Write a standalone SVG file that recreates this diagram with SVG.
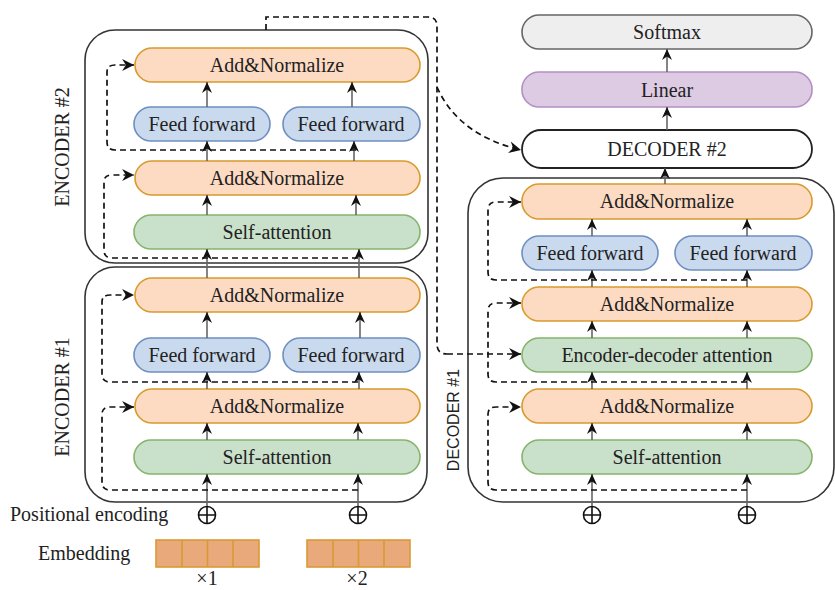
<svg xmlns="http://www.w3.org/2000/svg" width="835" height="590" viewBox="0 0 835 590">
<defs>
<marker id="ah" markerUnits="userSpaceOnUse" markerWidth="13" markerHeight="13" viewBox="0 0 12 12" refX="11" refY="6" orient="auto">
<path d="M0,0.5 L11,6 L0,11.5 L3.5,6 Z" fill="#111"/>
</marker>
<marker id="ahs" markerUnits="userSpaceOnUse" markerWidth="12" markerHeight="12" viewBox="0 0 12 12" refX="11" refY="6" orient="auto">
<path d="M0,1 L11,6 L0,11 L3.5,6 Z" fill="#111"/>
</marker>
</defs>
<style>
text{font-family:"Liberation Serif","Times New Roman",serif;font-size:20px;fill:#222;text-anchor:middle}
.an{fill:#fddbc2;stroke:#d89b2e;stroke-width:1.6}
.ff{fill:#c9daef;stroke:#6f8fc0;stroke-width:1.6}
.sa{fill:#c9e0ca;stroke:#86b46c;stroke-width:1.6}
.li{fill:#dccbe2;stroke:#b38fc4;stroke-width:1.6}
.sm{fill:#eeeeee;stroke:#666;stroke-width:1.6}
.dc{fill:#fff;stroke:#222;stroke-width:1.8}
.box{fill:none;stroke:#333;stroke-width:1.6}
.up{stroke:#666;stroke-width:1.6;fill:none;marker-end:url(#ahs)}
.ds{stroke:#111;stroke-width:1.7;fill:none;stroke-dasharray:6 4}
.dsa{stroke:#111;stroke-width:1.7;fill:none;stroke-dasharray:6 4;marker-end:url(#ah)}
.emb{fill:#eaa97a;stroke:#d99a34;stroke-width:1.6}
.plus{fill:none;stroke:#111;stroke-width:1.6}
</style>

<!-- containers -->
<g id="encoder2">
<rect class="box" x="85" y="30" width="343" height="233" rx="30"/>
<text transform="translate(69,147) rotate(-90)">ENCODER #2</text>
</g>
<g id="encoder1">
<rect class="box" x="85" y="267" width="342" height="235" rx="30"/>
<text transform="translate(69,397) rotate(-90)">ENCODER #1</text>
</g>
<g id="decoder1">
<rect class="box" x="468" y="178" width="366" height="324" rx="35"/>
<text transform="translate(459,420) rotate(-90)" style="font-family:'Liberation Sans',Arial,sans-serif;font-size:16px">DECODER #1</text>
</g>

<!-- encoder 2 nodes -->
<g id="e2-an2"><rect class="an" x="135" y="48" width="285" height="34" rx="17"/><text x="277" y="72">Add&amp;Normalize</text></g>
<g id="e2-ff1"><rect class="ff" x="134" y="107" width="136" height="34" rx="17"/><text x="202" y="131">Feed forward</text></g>
<g id="e2-ff2"><rect class="ff" x="283" y="107" width="137" height="34" rx="17"/><text x="351" y="131">Feed forward</text></g>
<g id="e2-an1"><rect class="an" x="135" y="161" width="285" height="34" rx="17"/><text x="277" y="185">Add&amp;Normalize</text></g>
<g id="e2-sa"><rect class="sa" x="134" y="215" width="286" height="34" rx="17"/><text x="277" y="239">Self-attention</text></g>

<!-- encoder 1 nodes -->
<g id="e1-an2"><rect class="an" x="135" y="278" width="285" height="34" rx="17"/><text x="277" y="302">Add&amp;Normalize</text></g>
<g id="e1-ff1"><rect class="ff" x="134" y="338" width="136" height="34" rx="17"/><text x="202" y="362">Feed forward</text></g>
<g id="e1-ff2"><rect class="ff" x="283" y="338" width="137" height="34" rx="17"/><text x="351" y="362">Feed forward</text></g>
<g id="e1-an1"><rect class="an" x="135" y="389" width="285" height="34" rx="17"/><text x="277" y="413">Add&amp;Normalize</text></g>
<g id="e1-sa"><rect class="sa" x="134" y="440" width="286" height="34" rx="17"/><text x="277" y="464">Self-attention</text></g>

<!-- decoder nodes -->
<g id="softmax"><rect class="sm" x="522" y="15" width="290" height="34" rx="17"/><text x="667" y="39">Softmax</text></g>
<g id="linear"><rect class="li" x="522" y="72" width="290" height="35" rx="17"/><text x="667" y="97">Linear</text></g>
<g id="decoder2"><rect class="dc" x="522" y="130" width="290" height="38" rx="19"/><text x="667" y="156">DECODER #2</text></g>
<g id="d-an3"><rect class="an" x="522" y="184" width="290" height="35" rx="17"/><text x="667" y="208">Add&amp;Normalize</text></g>
<g id="d-ff1"><rect class="ff" x="522" y="236" width="136" height="34" rx="17"/><text x="590" y="260">Feed forward</text></g>
<g id="d-ff2"><rect class="ff" x="675" y="236" width="137" height="34" rx="17"/><text x="743" y="260">Feed forward</text></g>
<g id="d-an2"><rect class="an" x="522" y="287" width="290" height="34" rx="17"/><text x="667" y="311">Add&amp;Normalize</text></g>
<g id="d-eda"><rect class="sa" x="522" y="338" width="290" height="34" rx="17"/><text x="667" y="362">Encoder-decoder attention</text></g>
<g id="d-an1"><rect class="an" x="522" y="389" width="290" height="34" rx="17"/><text x="667" y="413">Add&amp;Normalize</text></g>
<g id="d-sa"><rect class="sa" x="522" y="440" width="290" height="34" rx="17"/><text x="667" y="464">Self-attention</text></g>

<!-- inputs -->
<g id="pe-label"><text x="10" y="521" style="text-anchor:start">Positional encoding</text></g>
<g id="emb-label"><text x="38" y="560" style="text-anchor:start">Embedding</text></g>
<g id="plus-e1"><circle class="plus" cx="207" cy="515" r="8.5"/><path class="plus" d="M198.5,515 H215.5 M207,506.5 V523.5"/></g>
<g id="plus-e2"><circle class="plus" cx="358" cy="515" r="8.5"/><path class="plus" d="M349.5,515 H366.5 M358,506.5 V523.5"/></g>
<g id="plus-d1"><circle class="plus" cx="592" cy="515" r="8.5"/><path class="plus" d="M583.5,515 H600.5 M592,506.5 V523.5"/></g>
<g id="plus-d2"><circle class="plus" cx="747" cy="515" r="8.5"/><path class="plus" d="M738.5,515 H755.5 M747,506.5 V523.5"/></g>
<g id="emb1">
<rect class="emb" x="156" y="540" width="103" height="27"/>
<path class="emb" d="M182,540 V567 M207.5,540 V567 M233,540 V567"/>
<text x="207" y="585">×1</text>
</g>
<g id="emb2">
<rect class="emb" x="307" y="540" width="103" height="27"/>
<path class="emb" d="M333,540 V567 M358.5,540 V567 M384,540 V567"/>
<text x="357" y="585">×2</text>
</g>

<!-- connectors -->
<g id="connectors">
<!-- encoder 1 vertical -->
<path class="up" d="M207,506 V474"/><path class="up" d="M358,506 V474"/>
<path class="up" d="M207,440 V423"/><path class="up" d="M358,440 V423"/>
<path class="up" d="M207,389 V372"/><path class="up" d="M359,389 V372"/>
<path class="up" d="M207,338 V312"/><path class="up" d="M360,338 V312"/>
<!-- encoder1 to encoder2 -->
<path class="up" d="M207,278 V249"/><path class="up" d="M359,278 V249"/>
<!-- encoder 2 vertical -->
<path class="up" d="M207,215 V195"/><path class="up" d="M356,215 V195"/>
<path class="up" d="M207,161 V141"/><path class="up" d="M354,161 V141"/>
<path class="up" d="M207,107 V82"/><path class="up" d="M352,107 V82"/>
<!-- decoder vertical -->
<path class="up" d="M592,506 V474"/><path class="up" d="M747,506 V474"/>
<path class="up" d="M592,440 V423"/><path class="up" d="M747,440 V423"/>
<path class="up" d="M592,389 V372"/><path class="up" d="M747,389 V372"/>
<path class="up" d="M592,338 V321"/><path class="up" d="M747,338 V321"/>
<path class="up" d="M592,287 V270"/><path class="up" d="M747,287 V270"/>
<path class="up" d="M592,236 V219"/><path class="up" d="M747,236 V219"/>
<path class="up" d="M665,184 V168"/>
<path class="up" d="M667,130 V107"/>
<path class="up" d="M667,72 V49"/>

<!-- residuals encoder 1 -->
<path class="dsa" d="M358,490 H110 Q102,490 102,482 V414 Q102,407 110,407 H134"/>
<path class="dsa" d="M358,382 H110 Q102,382 102,374 V302 Q102,295 110,295 H134"/>
<!-- residuals encoder 2 -->
<path class="dsa" d="M358,258 H112 Q104,258 104,250 V182 Q104,175 112,175 H134"/>
<path class="dsa" d="M356,150 H115 Q107,150 107,142 V72 Q107,65 115,65 H134"/>
<!-- residuals decoder -->
<path class="dsa" d="M747,490 H496 Q488,490 488,482 V414 Q488,407 496,407 H521"/>
<path class="dsa" d="M747,382 H496 Q488,382 488,374 V311 Q488,303 496,303 H521"/>
<path class="dsa" d="M747,280 H496 Q488,280 488,272 V210 Q488,202 496,202 H521"/>

<!-- encoder to decoder -->
<path class="ds" d="M266,30 V17 H428 Q437,17 437,26 V344 Q437,354 447,354"/>
<path class="dsa" d="M447,354 H521"/>
<path class="dsa" d="M437,87 Q458,135 521,150"/>
</g>
</svg>
